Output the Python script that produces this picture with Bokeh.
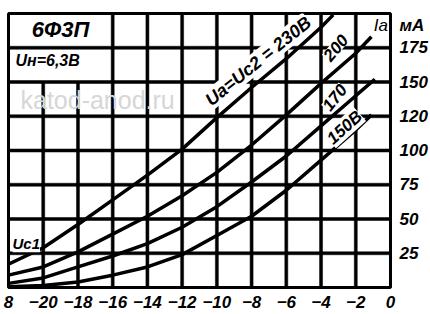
from bokeh.plotting import figure
from bokeh.models import Range1d, FixedTicker, Label, ColumnDataSource
from bokeh.embed import file_html
from bokeh.resources import INLINE

# Grid voltage Ug1 (V) and anode current Ia (mA) for Ua = Ug2
ug_230 = [-22, -20, -18, -16, -14, -12, -10, -8, -6, -4, -3.3]
ia_230 = [17, 29, 46, 64, 82, 101, 124, 146, 167, 190, 199]

ug_200 = [-22, -20, -18, -16, -14, -12, -10, -8, -6, -4, -2, -1.1]
ia_200 = [9, 15, 26, 39, 52, 67, 84, 104, 126, 149, 171, 183]

ug_170 = [-22, -20, -18, -16, -14, -12, -10, -8, -6, -4, -2, -0.9]
ia_170 = [3, 7, 15, 23, 32, 44, 59, 77, 96, 118, 140, 152]

ug_150 = [-22, -20, -18, -16, -14, -12, -10, -8, -6, -4, -2, -1.1]
ia_150 = [0.5, 1.5, 4, 9, 15, 24, 38, 52, 71, 93, 115, 126]

x_ticks = [-22, -20, -18, -16, -14, -12, -10, -8, -6, -4, -2, 0]
x_tick_labels = ["8", "−20", "−18", "−16", "−14", "−12", "−10", "−8", "−6", "−4", "−2", "0"]
y_ticks = [25, 50, 75, 100, 125, 150, 175]
y_tick_labels = ["25", "50", "75", "100", "120", "150", "175"]
unit_pos, unit_label = 191, "мА"

FONT = "Liberation Sans"
X0, X1, Y0, Y1 = -22, 0, 0, 200

p = figure(width=430, height=314, output_backend="svg", toolbar_location=None,
           x_range=Range1d(X0, X1), y_range=Range1d(Y0, Y1),
           x_axis_location="below", y_axis_location="right",
           min_border_left=8, min_border_right=39, min_border_top=13, min_border_bottom=27)
p.background_fill_color = "white"
p.border_fill_color = "white"
p.outline_line_color = "black"
p.outline_line_width = 3
p.grid.visible = False

for ax in (p.xaxis[0], p.yaxis[0]):
    ax.axis_line_color = None
    ax.major_tick_line_color = None
    ax.minor_tick_line_color = None
    ax.major_label_text_font = FONT
    ax.major_label_text_font_style = "bold italic"
    ax.major_label_text_font_size = "17px"
    ax.major_label_text_color = "black"

p.xaxis[0].ticker = FixedTicker(ticks=x_ticks)
p.xaxis[0].major_label_overrides = {t: l for t, l in zip(x_ticks, x_tick_labels)}
p.xaxis[0].major_label_standoff = 2
p.yaxis[0].ticker = FixedTicker(ticks=y_ticks + [unit_pos])
ov = {t: l for t, l in zip(y_ticks, y_tick_labels)}
ov[unit_pos] = unit_label
p.yaxis[0].major_label_overrides = ov
p.yaxis[0].major_label_standoff = 3

# grid lines as filled bars built from the tick arrays
vx = x_ticks[1:-1]
vtop = [150 if t in (-20, -18) else Y1 for t in vx]
p.rect(x=vx, y=[(Y0 + t) / 2 for t in vtop], width=3, width_units="screen",
       height=[t - Y0 for t in vtop], fill_color="black", line_color="black", line_width=0.5)
p.rect(x=[(X0 + X1) / 2] * len(y_ticks), y=y_ticks, width=X1 - X0,
       height=3, height_units="screen", fill_color="black", line_color="black", line_width=0.5)

for xs, ys in ((ug_230, ia_230), (ug_200, ia_200), (ug_170, ia_170), (ug_150, ia_150)):
    p.line(x="x", y="y", source=ColumnDataSource(dict(x=xs, y=ys)),
           line_color="black", line_width=3.5)

def lab(x, y, text, size, style="bold italic", angle=0, align="left", color="black",
        font=FONT, bg=None):
    p.add_layout(Label(x=x, y=y, text=text, text_font=font, text_font_size=size,
                       text_font_style=style, text_color=color, text_align=align,
                       text_baseline="middle", angle=angle, angle_units="deg",
                       background_fill_color=bg))

lab(-21.31, 136.5, "katod-anod.ru", "25px", style="normal", color="#d6d6d6")
lab(-19.0, 188.3, "6Ф3П", "22px", align="center")
lab(-21.6, 165.5, "Uн=6,3В", "16px")
lab(-21.77, 32, "Uс1", "15px", bg="white")
lab(-7.62, 165.3, "Uа=Uс2 = 230В", "18px", angle=39, align="center", bg="white")
lab(-3.16, 175, "200", "17px", angle=50, align="center", bg="white")
lab(-3.22, 138.7, "170", "17px", angle=52, align="center", bg="white")
lab(-2.64, 116.8, "150В", "17px", angle=42, align="center", bg="white")
lab(-0.55, 191, "Iа", "17px", style="italic", align="center")

open("out.html", "w").write(file_html(p, INLINE))
